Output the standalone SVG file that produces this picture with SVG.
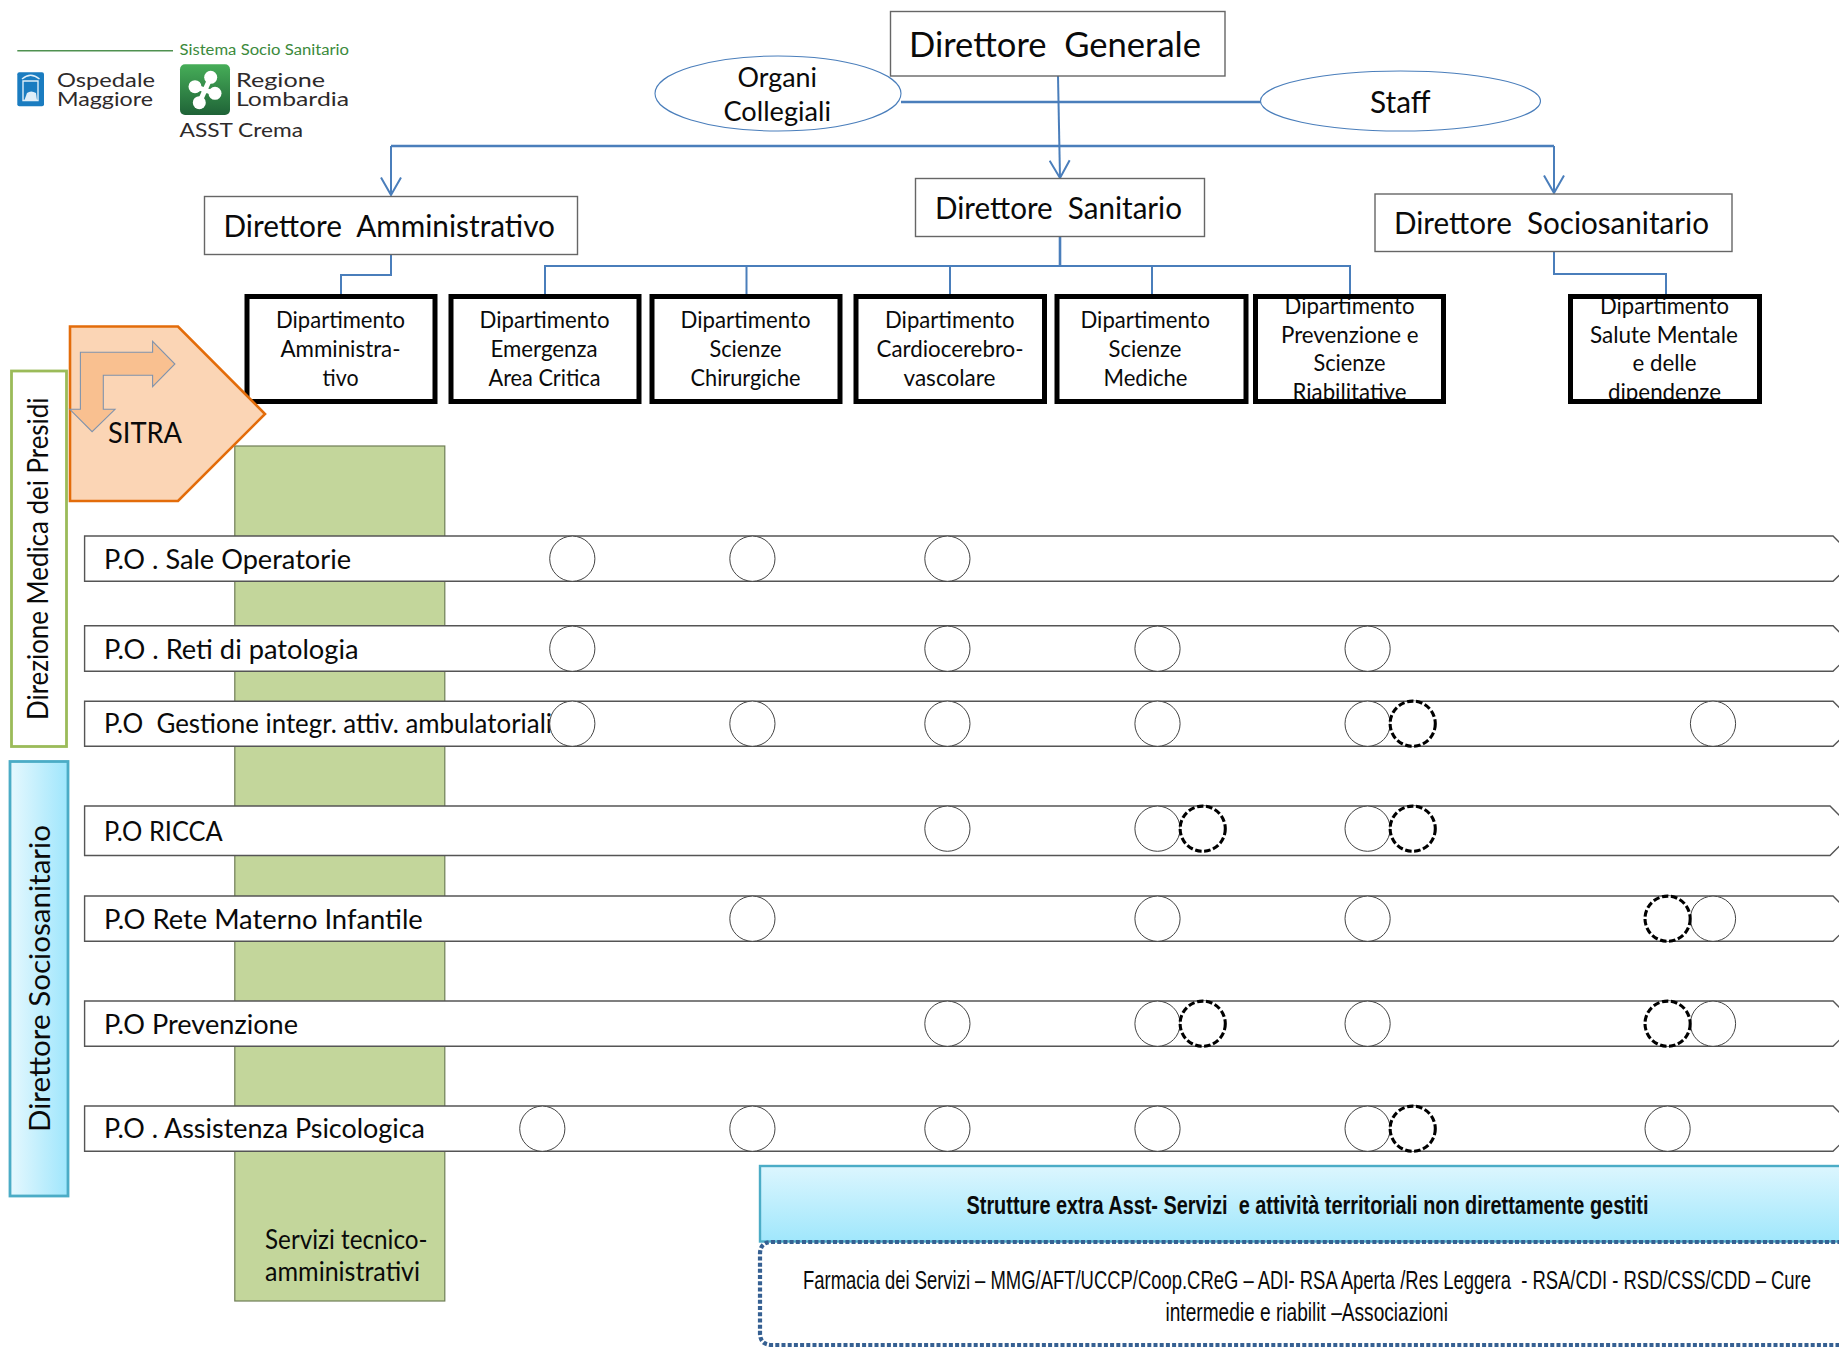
<svg xmlns="http://www.w3.org/2000/svg" width="1839" height="1348" viewBox="0 0 1839 1348">
<style>
text{font-family:"Lato","Liberation Sans",sans-serif;fill:#0a0a0a}
.t{font-size:34px}.d{font-size:22.5px}.p{font-size:26px}.r{font-size:28px}
.box{fill:#fff;stroke:#666;stroke-width:1.4}
.dept{fill:none;stroke:#000;stroke-width:5}
.ell{fill:#fff;stroke:#4a7ebb;stroke-width:1.1}
.bar{fill:#fff;stroke:#555;stroke-width:1.4}
.c{fill:#fff;stroke:#444;stroke-width:1}
.k{fill:#fff;stroke:#000;stroke-width:3.1;stroke-dasharray:6.5 2.6}
.cn{fill:none;stroke:#4a7ebb;stroke-width:2}
.th{stroke-width:2.6}
.lg{font-size:20px;fill:#2e2a2a}
.nar{font-family:"Liberation Sans",sans-serif}
</style>
<defs>
<marker id="arr" markerUnits="userSpaceOnUse" markerWidth="24" markerHeight="22" refX="19" refY="11" orient="auto"><path d="M1.5,1 L19,11 L1.5,21" fill="none" stroke="#4a7ebb" stroke-width="2"/></marker>
<linearGradient id="gh" x1="0" x2="1" y1="0" y2="0"><stop offset="0" stop-color="#e6f8fe"/><stop offset="1" stop-color="#9fe6fc"/></linearGradient>
<linearGradient id="gv" x1="0" x2="0" y1="0" y2="1"><stop offset="0" stop-color="#dcf6fe"/><stop offset="1" stop-color="#a0e7fc"/></linearGradient>
<linearGradient id="gg" x1="0" x2="0" y1="0" y2="1"><stop offset="0" stop-color="#46ad58"/><stop offset="1" stop-color="#1f6337"/></linearGradient>
</defs>
<rect width="1839" height="1348" fill="#fff"/>

<g id="logo">
<line x1="17.3" y1="50.7" x2="173" y2="50.7" stroke="#4f9150" stroke-width="1.5"/>
<text x="179.5" y="55" style="font-size:14.5px;fill:#3c8a3c" textLength="169.5" lengthAdjust="spacingAndGlyphs">Sistema Socio Sanitario</text>
<rect x="17.3" y="72.3" width="26.7" height="34" rx="2" fill="#1a7cc0"/>
<path d="M22,79 Q30.6,71.5 39.5,79 M23,81 H38 V100.5 H23 Z" fill="none" stroke="#dfeef8" stroke-width="1.4"/>
<path d="M24.5,100 L27,93 Q31,90 36,93 L37,100 Z" fill="#dfeef8"/>
<text class="lg" x="57" y="86.7" textLength="98" lengthAdjust="spacingAndGlyphs">Ospedale</text>
<text class="lg" x="57" y="105.7" textLength="96" lengthAdjust="spacingAndGlyphs">Maggiore</text>
<rect x="180" y="64.3" width="50" height="50.7" rx="5" fill="url(#gg)"/>
<g fill="#fff" stroke="none"><circle cx="195" cy="86.7" r="6.5"/><circle cx="210.7" cy="77.3" r="6.5"/><circle cx="215" cy="93.3" r="6.5"/><circle cx="199.3" cy="102.7" r="6.5"/></g>
<path d="M195,86.7 L205,90 L210.7,77.3 M215,93.3 L205,90 L199.3,102.7" fill="none" stroke="#fff" stroke-width="5"/>
<text class="lg" x="236" y="86.7" textLength="89" lengthAdjust="spacingAndGlyphs">Regione</text>
<text class="lg" x="236" y="105.7" textLength="113" lengthAdjust="spacingAndGlyphs">Lombardia</text>
<text class="lg" x="179.5" y="136.7" textLength="123.5" lengthAdjust="spacingAndGlyphs">ASST Crema</text>
</g>

<g id="services">
<rect x="234.8" y="446" width="210" height="855" fill="#c3d69b" stroke="#6f7d55" stroke-width="1.2"/>
<text class="p" x="265" y="1249" textLength="162.5" lengthAdjust="spacingAndGlyphs">Servizi tecnico-</text>
<text class="p" x="265" y="1280.7" textLength="155" lengthAdjust="spacingAndGlyphs">amministrativi</text>
</g>

<g id="connectors">
<polyline class="cn" points="1058,76 1060,178" marker-end="url(#arr)"/>
<line class="cn th" x1="901" y1="102" x2="1262" y2="102"/>
<polyline class="cn th" points="391,146 1554,146"/>
<polyline class="cn" points="391,146 391,195" marker-end="url(#arr)"/>
<polyline class="cn" points="1554,146 1554,193" marker-end="url(#arr)"/>
<polyline class="cn" points="391,255 391,275 341,275 341,296"/>
<line class="cn th" x1="1060" y1="237" x2="1060" y2="266"/>
<polyline class="cn" points="545,296 545,266 1350,266 1350,296"/>
<line class="cn" x1="746.5" y1="266" x2="746.5" y2="296"/>
<line class="cn" x1="950" y1="266" x2="950" y2="296"/>
<line class="cn" x1="1152" y1="266" x2="1152" y2="296"/>
<polyline class="cn" points="1554,252 1554,274 1666,274 1666,296"/>
</g>

<g id="direttore-generale"><rect class="box" x="890.5" y="11.5" width="334.5" height="64.5"/><text class="t" x="909" y="56.5" textLength="292" lengthAdjust="spacingAndGlyphs" xml:space="preserve">Direttore  Generale</text></g>
<g id="organi-collegiali"><ellipse class="ell" cx="778" cy="93.5" rx="123" ry="37.5"/><text class="p" style="font-size:27px" x="737.5" y="86.5" textLength="79.5" lengthAdjust="spacingAndGlyphs">Organi</text><text class="p" style="font-size:27px" x="723.5" y="121" textLength="107.5" lengthAdjust="spacingAndGlyphs">Collegiali</text></g>
<g id="staff"><ellipse class="ell" cx="1400.5" cy="101" rx="140" ry="30"/><text class="p" style="font-size:30px" x="1370" y="112.5" textLength="60.5" lengthAdjust="spacingAndGlyphs">Staff</text></g>
<g id="direttore-amministrativo"><rect class="box" x="204.5" y="196.5" width="373" height="58"/><text class="r" style="font-size:30px" x="223.5" y="237" textLength="331.5" lengthAdjust="spacingAndGlyphs" xml:space="preserve">Direttore  Amministrativo</text></g>
<g id="direttore-sanitario"><rect class="box" x="915.5" y="178.5" width="289" height="58"/><text class="r" style="font-size:30px" x="935" y="218.5" textLength="247" lengthAdjust="spacingAndGlyphs" xml:space="preserve">Direttore  Sanitario</text></g>
<g id="direttore-sociosanitario"><rect class="box" x="1375" y="194" width="357" height="57.5"/><text class="r" style="font-size:30px" x="1394" y="233.5" textLength="315" lengthAdjust="spacingAndGlyphs" xml:space="preserve">Direttore  Sociosanitario</text></g>

<g id="dip-amministrativo"><text class="d" x="276" y="328" textLength="129" lengthAdjust="spacingAndGlyphs">Dipartimento</text><text class="d" x="280.5" y="357" textLength="120" lengthAdjust="spacingAndGlyphs">Amministra-</text><text class="d" x="322.5" y="386" textLength="36" lengthAdjust="spacingAndGlyphs">tivo</text><rect class="dept" x="247" y="296.5" width="188" height="105"/></g>
<g id="dip-emergenza"><text class="d" x="479.5" y="328" textLength="130" lengthAdjust="spacingAndGlyphs">Dipartimento</text><text class="d" x="490.5" y="357" textLength="107" lengthAdjust="spacingAndGlyphs">Emergenza</text><text class="d" x="488.5" y="386" textLength="112" lengthAdjust="spacingAndGlyphs">Area Critica</text><rect class="dept" x="451" y="296.5" width="188" height="105"/></g>
<g id="dip-chirurgiche"><text class="d" x="680.5" y="328" textLength="130" lengthAdjust="spacingAndGlyphs">Dipartimento</text><text class="d" x="709.5" y="357" textLength="72" lengthAdjust="spacingAndGlyphs">Scienze</text><text class="d" x="690.5" y="386" textLength="110" lengthAdjust="spacingAndGlyphs">Chirurgiche</text><rect class="dept" x="652" y="296.5" width="188" height="105"/></g>
<g id="dip-cardio"><text class="d" x="885" y="328" textLength="129.5" lengthAdjust="spacingAndGlyphs">Dipartimento</text><text class="d" x="876.5" y="357" textLength="147" lengthAdjust="spacingAndGlyphs">Cardiocerebro-</text><text class="d" x="903.5" y="386" textLength="92" lengthAdjust="spacingAndGlyphs">vascolare</text><rect class="dept" x="856" y="296.5" width="188.5" height="105"/></g>
<g id="dip-mediche"><text class="d" x="1080.5" y="328" textLength="129.5" lengthAdjust="spacingAndGlyphs">Dipartimento</text><text class="d" x="1108.5" y="357" textLength="73" lengthAdjust="spacingAndGlyphs">Scienze</text><text class="d" x="1103.5" y="386" textLength="84" lengthAdjust="spacingAndGlyphs">Mediche</text><rect class="dept" x="1057" y="296.5" width="189" height="105"/></g>
<g id="dip-prevenzione"><text class="d" x="1284.5" y="313.5" textLength="130" lengthAdjust="spacingAndGlyphs">Dipartimento</text><text class="d" x="1281" y="342.5" textLength="137.5" lengthAdjust="spacingAndGlyphs">Prevenzione e</text><text class="d" x="1313.5" y="371" textLength="72" lengthAdjust="spacingAndGlyphs">Scienze</text><text class="d" x="1292.5" y="400" textLength="114" lengthAdjust="spacingAndGlyphs">Riabilitative</text><rect class="dept" x="1255.5" y="296.5" width="188" height="105"/></g>
<g id="dip-salute"><text class="d" x="1600" y="313.5" textLength="129" lengthAdjust="spacingAndGlyphs">Dipartimento</text><text class="d" x="1590" y="342.5" textLength="148" lengthAdjust="spacingAndGlyphs">Salute Mentale</text><text class="d" x="1632.6" y="371" textLength="64" lengthAdjust="spacingAndGlyphs">e delle</text><text class="d" x="1608" y="400" textLength="113" lengthAdjust="spacingAndGlyphs">dipendenze</text><rect class="dept" x="1570.5" y="296.5" width="189" height="105"/></g>

<g id="sitra">
<polygon points="70,326.5 178,326.5 265,414 178,501 70,501" fill="#fbd5b5" stroke="#e36c0a" stroke-width="2.6"/>
<polygon points="80.4,352.3 152.6,352.3 152.6,341.3 174.9,364 152.6,386.7 152.6,375.3 103.3,375.3 103.3,409.3 115,409.3 92.1,431.7 69.8,409.3 80.4,409.3" fill="#f9c090" stroke="#7f93ad" stroke-width="1.1"/>
<text class="r" style="font-size:29px" x="108" y="443" textLength="74" lengthAdjust="spacingAndGlyphs">SITRA</text>
</g>

<g id="direzione-medica"><rect x="11.5" y="371" width="55" height="375.5" fill="#fff" stroke="#9bbb59" stroke-width="2.8"/><text class="r" transform="translate(48,720) rotate(-90)" x="0" y="0" textLength="322.5" lengthAdjust="spacingAndGlyphs">Direzione Medica dei Presidi</text></g>
<g id="direttore-sociosanitario-side"><rect x="10" y="761.5" width="58" height="434.5" fill="url(#gh)" stroke="#4bacc6" stroke-width="2.8"/><text class="r" transform="translate(50,1132) rotate(-90)" x="0" y="0" textLength="307" lengthAdjust="spacingAndGlyphs">Direttore Sociosanitario</text></g>

<g id="po-sale"><polygon class="bar" points="84.6,536 1833,536 1856,558.7 1833,581.3 84.6,581.3"/><text class="p" x="104" y="568.7" textLength="247" lengthAdjust="spacingAndGlyphs">P.O . Sale Operatorie</text>
<circle class="c" cx="572.3" cy="558.7" r="22.6"/><circle class="c" cx="752.4" cy="558.7" r="22.6"/><circle class="c" cx="947.4" cy="558.7" r="22.6"/></g>
<g id="po-reti"><polygon class="bar" points="84.6,625.8 1833,625.8 1856,648.6 1833,671.3 84.6,671.3"/><text class="p" x="104" y="658.5" textLength="254.5" lengthAdjust="spacingAndGlyphs">P.O . Reti di patologia</text>
<circle class="c" cx="572.3" cy="648.7" r="22.6"/><circle class="c" cx="947.4" cy="648.7" r="22.6"/><circle class="c" cx="1157.5" cy="648.7" r="22.6"/><circle class="c" cx="1367.6" cy="648.7" r="22.6"/></g>
<g id="po-gestione"><polygon class="bar" points="84.6,701.3 1833,701.3 1856,723.8 1833,746.3 84.6,746.3"/><text class="p" x="104" y="733" textLength="448" lengthAdjust="spacingAndGlyphs" xml:space="preserve">P.O  Gestione integr. attiv. ambulatoriali</text>
<circle class="c" cx="572.3" cy="723.7" r="22.6"/><circle class="c" cx="752.4" cy="723.7" r="22.6"/><circle class="c" cx="947.4" cy="723.7" r="22.6"/><circle class="c" cx="1157.5" cy="723.7" r="22.6"/><circle class="c" cx="1367.6" cy="723.7" r="22.6"/><circle class="k" cx="1412.7" cy="723.7" r="22.6"/><circle class="c" cx="1713" cy="723.7" r="22.6"/></g>
<g id="po-ricca"><polygon class="bar" points="84.6,806 1830,806 1855,830.8 1830,855.5 84.6,855.5"/><text class="p" x="104" y="840.5" textLength="118.6" lengthAdjust="spacingAndGlyphs">P.O RICCA</text>
<circle class="c" cx="947.4" cy="828.7" r="22.6"/><circle class="c" cx="1157.5" cy="828.7" r="22.6"/><circle class="k" cx="1202.7" cy="828.7" r="22.6"/><circle class="c" cx="1367.6" cy="828.7" r="22.6"/><circle class="k" cx="1412.7" cy="828.7" r="22.6"/></g>
<g id="po-materno"><polygon class="bar" points="84.6,896 1833,896 1856,918.6 1833,941.3 84.6,941.3"/><text class="p" x="104" y="928.7" textLength="318.8" lengthAdjust="spacingAndGlyphs">P.O Rete Materno Infantile</text>
<circle class="c" cx="752.4" cy="918.7" r="22.6"/><circle class="c" cx="1157.5" cy="918.7" r="22.6"/><circle class="c" cx="1367.6" cy="918.7" r="22.6"/><circle class="c" cx="1713" cy="918.7" r="22.6"/><circle class="k" cx="1667.6" cy="918.7" r="22.6"/></g>
<g id="po-prevenzione"><polygon class="bar" points="84.6,1001 1833,1001 1856,1023.6 1833,1046.3 84.6,1046.3"/><text class="p" x="104" y="1033.7" textLength="194" lengthAdjust="spacingAndGlyphs">P.O Prevenzione</text>
<circle class="c" cx="947.4" cy="1023.7" r="22.6"/><circle class="c" cx="1157.5" cy="1023.7" r="22.6"/><circle class="k" cx="1202.7" cy="1023.7" r="22.6"/><circle class="c" cx="1367.6" cy="1023.7" r="22.6"/><circle class="c" cx="1713" cy="1023.7" r="22.6"/><circle class="k" cx="1667.6" cy="1023.7" r="22.6"/></g>
<g id="po-assistenza"><polygon class="bar" points="84.6,1106 1833,1106 1856,1128.6 1833,1151.3 84.6,1151.3"/><text class="p" x="104" y="1138" textLength="321" lengthAdjust="spacingAndGlyphs">P.O . Assistenza Psicologica</text>
<circle class="c" cx="542.3" cy="1128.7" r="22.6"/><circle class="c" cx="752.4" cy="1128.7" r="22.6"/><circle class="c" cx="947.4" cy="1128.7" r="22.6"/><circle class="c" cx="1157.5" cy="1128.7" r="22.6"/><circle class="c" cx="1367.6" cy="1128.7" r="22.6"/><circle class="k" cx="1412.7" cy="1128.7" r="22.6"/><circle class="c" cx="1667.6" cy="1128.7" r="22.6"/></g>

<g id="strutture-extra">
<rect x="760" y="1166" width="1100" height="75.5" fill="url(#gv)" stroke="#4bacc6" stroke-width="2.4"/>
<text class="nar" x="966.5" y="1214" style="font-size:26px;font-weight:700" textLength="682" lengthAdjust="spacingAndGlyphs" xml:space="preserve">Strutture extra Asst- Servizi  e attività territoriali non direttamente gestiti</text>
</g>
<g id="servizi-territoriali">
<path d="M1860,1242 H772 Q760,1242 760,1254 V1333 Q760,1345 772,1345 H1860" fill="none" stroke="#366092" stroke-width="4.2" stroke-dasharray="4 2.2"/>
<text class="nar" x="803" y="1289" style="font-size:26px" textLength="1008" lengthAdjust="spacingAndGlyphs" xml:space="preserve">Farmacia dei Servizi – MMG/AFT/UCCP/Coop.CReG – ADI- RSA Aperta /Res Leggera  - RSA/CDI - RSD/CSS/CDD – Cure</text>
<text class="nar" x="1165.5" y="1321" style="font-size:26px" textLength="282.5" lengthAdjust="spacingAndGlyphs">intermedie e riabilit –Associazioni</text>
</g>
</svg>
